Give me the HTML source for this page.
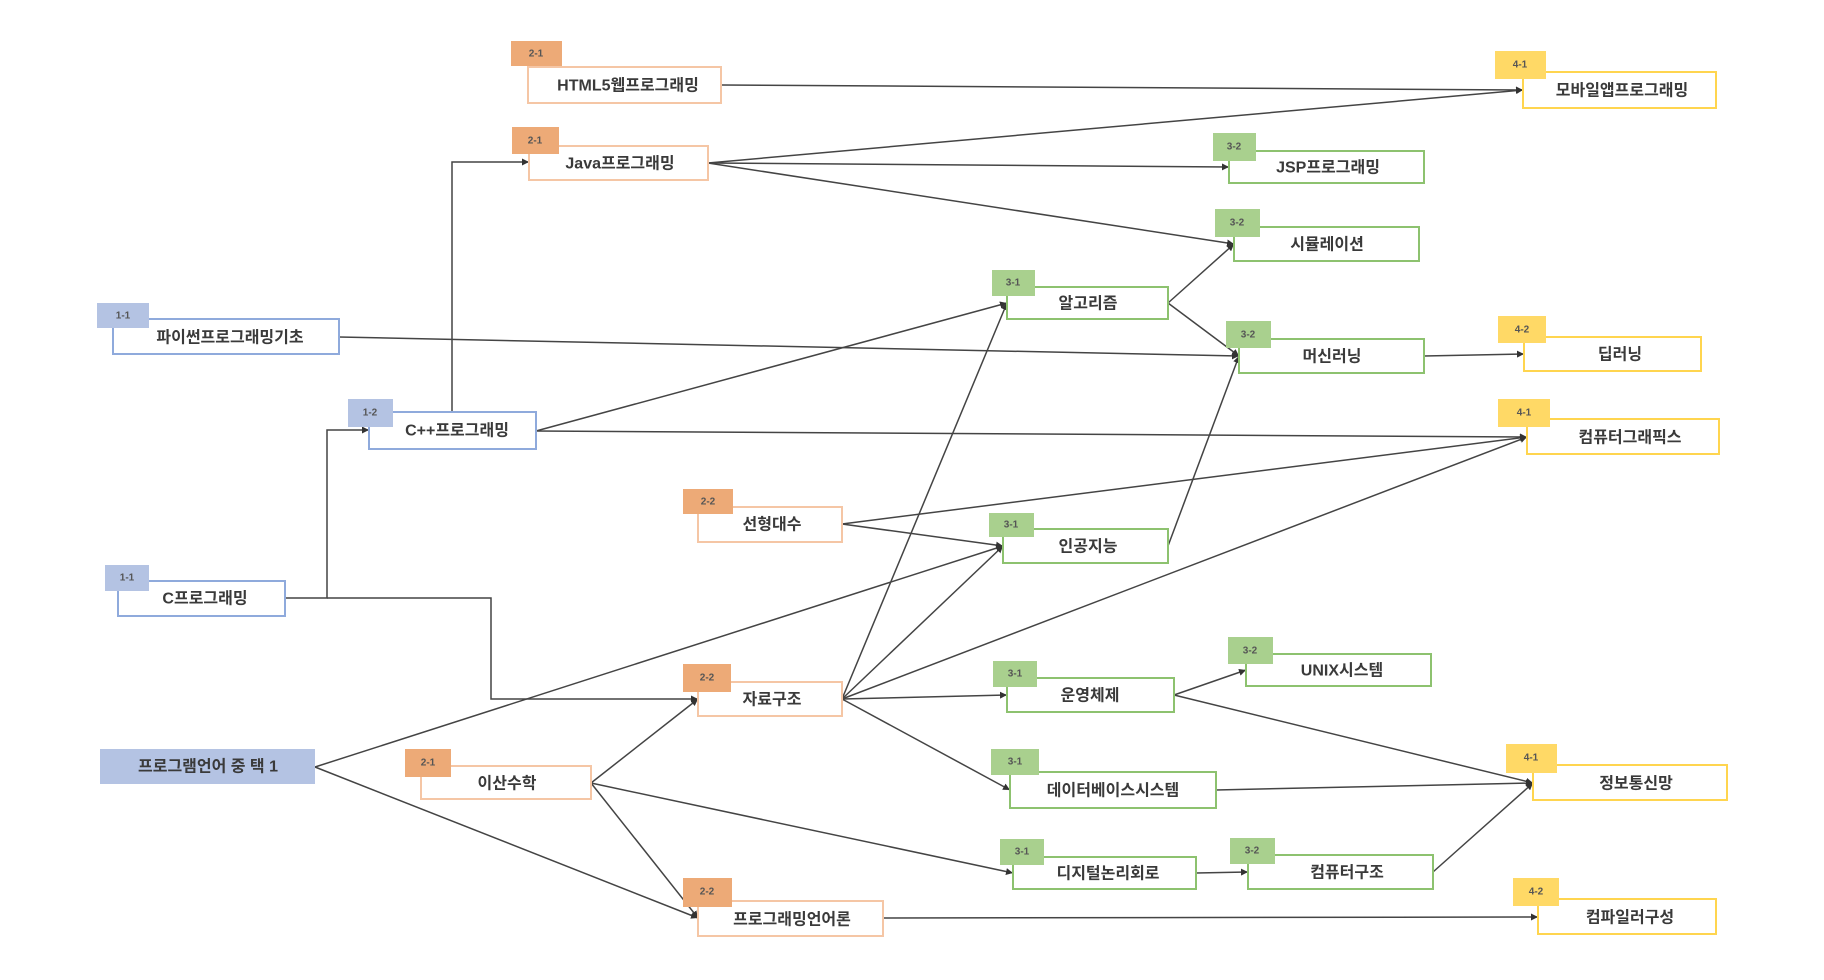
<!DOCTYPE html>
<html><head><meta charset="utf-8">
<style>
html,body{margin:0;padding:0;background:#fff;}
svg{display:block;}
text{font-family:"Liberation Sans","Noto Sans CJK KR",sans-serif;font-weight:bold;fill:#3a3a3a;}
.lbl{font-size:16px;text-anchor:middle;dominant-baseline:central;}
.tag{font-size:10px;text-anchor:middle;dominant-baseline:central;fill:#555;}
.e{stroke:#444;stroke-width:1.5;fill:none;marker-end:url(#a);}
.n{stroke:#444;stroke-width:1.5;fill:none;}
</style></head><body>
<svg width="1824" height="980" viewBox="0 0 1824 980" xmlns="http://www.w3.org/2000/svg">
<defs>
<marker id="a" viewBox="0 0 10 10" refX="10" refY="5" markerWidth="7" markerHeight="7" markerUnits="userSpaceOnUse" orient="auto">
<path d="M0,0 L10,5 L0,10 z" fill="#333"/></marker>
</defs>

<!-- edges -->
<line class="e" x1="722" y1="85" x2="1523" y2="90"/>
<line class="e" x1="708" y1="163" x2="1523" y2="90"/>
<line class="e" x1="708" y1="163" x2="1229" y2="167"/>
<line class="e" x1="708" y1="163" x2="1234" y2="244"/>
<line class="e" x1="339" y1="337" x2="1239" y2="356"/>
<line class="e" x1="536" y1="431" x2="1007" y2="303"/>
<line class="e" x1="536" y1="431" x2="1527" y2="437"/>
<polyline class="e" points="452,412 452,162 529,162"/>
<polyline class="e" points="285,598 327,598 327,430 369,430"/>
<polyline class="e" points="327,598 491,598 491,699 698,699"/>
<line class="e" x1="1168" y1="303" x2="1234" y2="244"/>
<line class="e" x1="1168" y1="303" x2="1239" y2="356"/>
<line class="e" x1="1168" y1="546" x2="1239" y2="356"/>
<line class="e" x1="1424" y1="356" x2="1524" y2="354"/>
<line class="e" x1="842" y1="524" x2="1527" y2="437"/>
<line class="e" x1="842" y1="524" x2="1003" y2="546"/>
<line class="e" x1="842" y1="699" x2="1007" y2="303"/>
<line class="e" x1="842" y1="699" x2="1003" y2="546"/>
<line class="e" x1="842" y1="699" x2="1527" y2="437"/>
<line class="e" x1="842" y1="699" x2="1007" y2="695"/>
<line class="e" x1="842" y1="699" x2="1010" y2="790"/>
<line class="e" x1="315" y1="767" x2="1003" y2="546"/>
<line class="e" x1="315" y1="767" x2="698" y2="918"/>
<line class="e" x1="591" y1="783" x2="698" y2="699"/>
<line class="e" x1="591" y1="783" x2="698" y2="918"/>
<line class="e" x1="591" y1="783" x2="1013" y2="873"/>
<line class="e" x1="1174" y1="695" x2="1246" y2="670"/>
<line class="e" x1="1174" y1="695" x2="1533" y2="783"/>
<line class="e" x1="1216" y1="790" x2="1533" y2="783"/>
<line class="e" x1="1196" y1="873" x2="1248" y2="872"/>
<line class="e" x1="1433" y1="872" x2="1533" y2="783"/>
<line class="e" x1="883" y1="918" x2="1538" y2="917"/>

<!-- nodes: orange -->
<g>
<rect x="528" y="67" width="193" height="36" fill="#fff" stroke="#F5C6A5" stroke-width="2"/>
<rect x="511" y="41" width="51" height="25" fill="#EDAA77"/><text class="tag" x="536" y="54">2-1</text>
<text class="lbl" x="628" y="86">HTML5웹프로그래밍</text>

<rect x="529" y="146" width="179" height="34" fill="#fff" stroke="#F5C6A5" stroke-width="2"/>
<rect x="512" y="127" width="47" height="27" fill="#EDAA77"/><text class="tag" x="535" y="141">2-1</text>
<text class="lbl" x="620" y="164">Java프로그래밍</text>

<rect x="698" y="507" width="144" height="35" fill="#fff" stroke="#F5C6A5" stroke-width="2"/>
<rect x="683" y="489" width="50" height="25" fill="#EDAA77"/><text class="tag" x="708" y="502">2-2</text>
<text class="lbl" x="772" y="525">선형대수</text>

<rect x="698" y="682" width="144" height="34" fill="#fff" stroke="#F5C6A5" stroke-width="2"/>
<rect x="683" y="664" width="48" height="28" fill="#EDAA77"/><text class="tag" x="707" y="678">2-2</text>
<text class="lbl" x="772" y="700">자료구조</text>

<rect x="421" y="766" width="170" height="33" fill="#fff" stroke="#F5C6A5" stroke-width="2"/>
<rect x="405" y="749" width="46" height="28" fill="#EDAA77"/><text class="tag" x="428" y="763">2-1</text>
<text class="lbl" x="507" y="784">이산수학</text>

<rect x="698" y="901" width="185" height="35" fill="#fff" stroke="#F5C6A5" stroke-width="2"/>
<rect x="683" y="878" width="49" height="29" fill="#EDAA77"/><text class="tag" x="707" y="892">2-2</text>
<text class="lbl" x="792" y="920">프로그래밍언어론</text>
</g>

<!-- blue -->
<g>
<rect x="113" y="319" width="226" height="35" fill="#fff" stroke="#8FAADC" stroke-width="2"/>
<rect x="97" y="303" width="52" height="25" fill="#B4C3E3"/><text class="tag" x="123" y="316">1-1</text>
<text class="lbl" x="230" y="338">파이썬프로그래밍기초</text>

<rect x="369" y="412" width="167" height="37" fill="#fff" stroke="#8FAADC" stroke-width="2"/>
<rect x="348" y="399" width="45" height="28" fill="#B4C3E3"/><text class="tag" x="370" y="413">1-2</text>
<text class="lbl" x="457" y="431">C++프로그래밍</text>

<rect x="118" y="581" width="167" height="35" fill="#fff" stroke="#8FAADC" stroke-width="2"/>
<rect x="105" y="565" width="44" height="26" fill="#B4C3E3"/><text class="tag" x="127" y="578">1-1</text>
<text class="lbl" x="205" y="599">C프로그래밍</text>

<rect x="100" y="749" width="215" height="35" fill="#B4C3E3"/>
<text class="lbl" x="208" y="767">프로그램언어 중 택 1</text>
</g>

<!-- green -->
<g>
<rect x="1229" y="151" width="195" height="32" fill="#fff" stroke="#8DC26F" stroke-width="2"/>
<rect x="1213" y="133" width="43" height="28" fill="#A9D08E"/><text class="tag" x="1234" y="147">3-2</text>
<text class="lbl" x="1328" y="168">JSP프로그래밍</text>

<rect x="1234" y="227" width="185" height="34" fill="#fff" stroke="#8DC26F" stroke-width="2"/>
<rect x="1215" y="209" width="45" height="28" fill="#A9D08E"/><text class="tag" x="1237" y="223">3-2</text>
<text class="lbl" x="1327" y="245">시뮬레이션</text>

<rect x="1007" y="287" width="161" height="32" fill="#fff" stroke="#8DC26F" stroke-width="2"/>
<rect x="992" y="270" width="43" height="26" fill="#A9D08E"/><text class="tag" x="1013" y="283">3-1</text>
<text class="lbl" x="1088" y="304">알고리즘</text>

<rect x="1239" y="339" width="185" height="34" fill="#fff" stroke="#8DC26F" stroke-width="2"/>
<rect x="1226" y="321" width="45" height="27" fill="#A9D08E"/><text class="tag" x="1248" y="335">3-2</text>
<text class="lbl" x="1332" y="357">머신러닝</text>

<rect x="1003" y="529" width="165" height="34" fill="#fff" stroke="#8DC26F" stroke-width="2"/>
<rect x="989" y="513" width="45" height="24" fill="#A9D08E"/><text class="tag" x="1011" y="525">3-1</text>
<text class="lbl" x="1088" y="547">인공지능</text>

<rect x="1246" y="654" width="185" height="32" fill="#fff" stroke="#8DC26F" stroke-width="2"/>
<rect x="1228" y="637" width="45" height="27" fill="#A9D08E"/><text class="tag" x="1250" y="651">3-2</text>
<text class="lbl" x="1342" y="671">UNIX시스템</text>

<rect x="1007" y="678" width="167" height="34" fill="#fff" stroke="#8DC26F" stroke-width="2"/>
<rect x="993" y="661" width="44" height="26" fill="#A9D08E"/><text class="tag" x="1015" y="674">3-1</text>
<text class="lbl" x="1090" y="696">운영체제</text>

<rect x="1010" y="772" width="206" height="36" fill="#fff" stroke="#8DC26F" stroke-width="2"/>
<rect x="991" y="749" width="48" height="26" fill="#A9D08E"/><text class="tag" x="1015" y="762">3-1</text>
<text class="lbl" x="1113" y="791">데이터베이스시스템</text>

<rect x="1013" y="857" width="183" height="32" fill="#fff" stroke="#8DC26F" stroke-width="2"/>
<rect x="1000" y="839" width="44" height="26" fill="#A9D08E"/><text class="tag" x="1022" y="852">3-1</text>
<text class="lbl" x="1108" y="874">디지털논리회로</text>

<rect x="1248" y="855" width="185" height="34" fill="#fff" stroke="#8DC26F" stroke-width="2"/>
<rect x="1230" y="838" width="45" height="26" fill="#A9D08E"/><text class="tag" x="1252" y="851">3-2</text>
<text class="lbl" x="1347" y="873">컴퓨터구조</text>
</g>

<!-- yellow -->
<g>
<rect x="1523" y="72" width="193" height="36" fill="#fff" stroke="#FFD54F" stroke-width="2"/>
<rect x="1495" y="51" width="51" height="28" fill="#FFD966"/><text class="tag" x="1520" y="65">4-1</text>
<text class="lbl" x="1622" y="91">모바일앱프로그래밍</text>

<rect x="1524" y="337" width="177" height="34" fill="#fff" stroke="#FFD54F" stroke-width="2"/>
<rect x="1498" y="316" width="48" height="27" fill="#FFD966"/><text class="tag" x="1522" y="330">4-2</text>
<text class="lbl" x="1620" y="355">딥러닝</text>

<rect x="1527" y="419" width="192" height="35" fill="#fff" stroke="#FFD54F" stroke-width="2"/>
<rect x="1498" y="399" width="52" height="28" fill="#FFD966"/><text class="tag" x="1524" y="413">4-1</text>
<text class="lbl" x="1630" y="438">컴퓨터그래픽스</text>

<rect x="1533" y="765" width="194" height="35" fill="#fff" stroke="#FFD54F" stroke-width="2"/>
<rect x="1506" y="744" width="51" height="29" fill="#FFD966"/><text class="tag" x="1531" y="758">4-1</text>
<text class="lbl" x="1636" y="784">정보통신망</text>

<rect x="1538" y="899" width="178" height="35" fill="#fff" stroke="#FFD54F" stroke-width="2"/>
<rect x="1513" y="878" width="46" height="28" fill="#FFD966"/><text class="tag" x="1536" y="892">4-2</text>
<text class="lbl" x="1630" y="918">컴파일러구성</text>
</g>
</svg>
</body></html>
